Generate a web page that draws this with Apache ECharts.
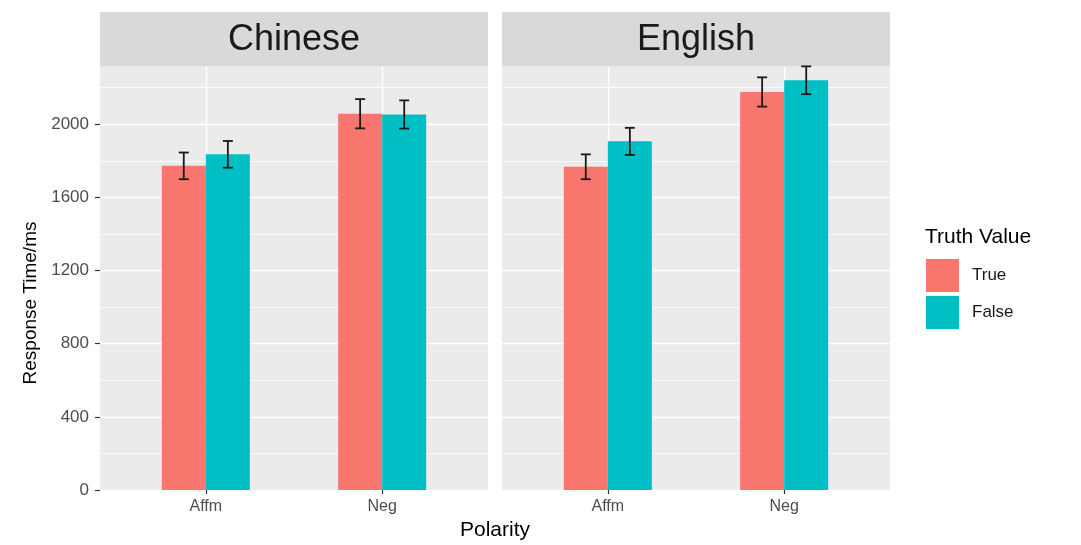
<!DOCTYPE html>
<html><head><meta charset="utf-8">
<script src="https://cdn.jsdelivr.net/npm/echarts@6/dist/echarts.min.js"></script>
<style>html,body{margin:0;padding:0;background:#fff}#c{width:1081px;height:545px}</style>
</head><body><div id="c"></div>
<script>
// ---- data ----
const languages = ['Chinese', 'English'];
const categories = ['Affm', 'Neg'];
const truthLevels = ['True', 'False'];
const chineseTrue = [1772, 2057];
const chineseFalse = [1835, 2053];
const chineseTrueErr = [73, 80];
const chineseFalseErr = [73, 77];
const englishTrue = [1767, 2176];
const englishFalse = [1906, 2240];
const englishTrueErr = [68, 80];
const englishFalseErr = [74, 76];
const yTicks = [0, 400, 800, 1200, 1600, 2000];
const yMinorTicks = [200, 600, 1000, 1400, 1800, 2200];
const yMax = 2318;

// ---- styling / layout ----
const FONT = '"Liberation Sans", Arial, Helvetica, sans-serif';
const colors = {True: '#F8766D', False: '#00BFC4'};
const panels = [{left: 100, width: 388}, {left: 502, width: 388}];
const panelTop = 66, panelHeight = 424, stripTop = 12, stripH = 54;
const dodge = 0.125, barW = 44;

const langData = [
  {t: chineseTrue, f: chineseFalse, te: chineseTrueErr, fe: chineseFalseErr},
  {t: englishTrue, f: englishFalse, te: englishTrueErr, fe: englishFalseErr}
];

const grid = panels.map(p => ({left: p.left, top: panelTop, width: p.width, height: panelHeight,
  show: true, backgroundColor: '#EBEBEB', borderWidth: 0, containLabel: false}));

const xAxis = panels.map((p, gi) => ({
  type: 'value', gridIndex: gi, min: 0.4, max: 2.6,
  axisLine: {show: false},
  axisTick: {show: true, customValues: [1, 2], length: 4, lineStyle: {color: '#333333', width: 1.2}},
  axisLabel: {show: true, customValues: [1, 2], margin: 9, color: '#4D4D4D', fontSize: 16, fontFamily: FONT,
    formatter: v => categories[Math.round(v) - 1] || ''},
  splitLine: {show: true, lineStyle: {color: '#FFFFFF', width: 1.4}}
}));

const yAxis = [];
panels.forEach((p, gi) => {
  yAxis.push({
    type: 'value', gridIndex: gi, min: 0, max: yMax, position: 'left',
    axisLine: {show: false},
    axisTick: {show: gi === 0, customValues: yTicks, length: 5, lineStyle: {color: '#333333', width: 1.2}},
    axisLabel: {show: gi === 0, customValues: yTicks, margin: 11, color: '#4D4D4D', fontSize: 17, fontFamily: FONT,
      formatter: v => String(v)},
    splitLine: {show: true, lineStyle: {color: '#FFFFFF', width: 1.4}}
  });
  yAxis.push({
    type: 'value', gridIndex: gi, min: 0, max: yMax, position: 'right',
    axisLine: {show: false},
    axisTick: {show: false, customValues: yMinorTicks},
    axisLabel: {show: false, customValues: yMinorTicks},
    splitLine: {show: true, lineStyle: {color: '#FFFFFF', width: 0.8}}
  });
});

function errSeries(gi, means, errs, off) {
  return {
    type: 'custom', xAxisIndex: gi, yAxisIndex: gi * 2, z: 5, silent: true,
    data: means.map((m, i) => [i + 1, m, errs[i]]),
    encode: {x: 0, y: 1},
    renderItem(params, api) {
      const x = api.value(0) + off, y = api.value(1), e = api.value(2);
      const top = api.coord([x, y + e]), bot = api.coord([x, y - e]);
      const hw = 5;
      const style = {stroke: '#1A1A1A', lineWidth: 1.8};
      return {type: 'group', children: [
        {type: 'line', shape: {x1: top[0], y1: top[1], x2: bot[0], y2: bot[1]}, style},
        {type: 'line', shape: {x1: top[0] - hw, y1: top[1], x2: top[0] + hw, y2: top[1]}, style},
        {type: 'line', shape: {x1: bot[0] - hw, y1: bot[1], x2: bot[0] + hw, y2: bot[1]}, style}
      ]};
    }
  };
}

const series = [];
langData.forEach((d, gi) => {
  series.push({type: 'bar', name: truthLevels[0], xAxisIndex: gi, yAxisIndex: gi * 2,
    data: d.t.map((v, i) => [i + 1, v]), barWidth: barW, barGap: '0%',
    itemStyle: {color: colors.True}, silent: true});
  series.push({type: 'bar', name: truthLevels[1], xAxisIndex: gi, yAxisIndex: gi * 2,
    data: d.f.map((v, i) => [i + 1, v]), barWidth: barW, barGap: '0%',
    itemStyle: {color: colors.False}, silent: true});
  series.push(errSeries(gi, d.t, d.te, -dodge));
  series.push(errSeries(gi, d.f, d.fe, dodge));
});

const graphic = [];
panels.forEach((p, gi) => {
  graphic.push({type: 'rect', left: p.left, top: stripTop, shape: {width: p.width, height: stripH},
    style: {fill: '#D9D9D9'}, silent: true});
  graphic.push({type: 'text', x: p.left + p.width / 2, y: stripTop + stripH / 2 + 1,
    style: {text: languages[gi], fontSize: 36, fontFamily: FONT, fill: '#1A1A1A', align: 'center', verticalAlign: 'middle'}});
});
graphic.push({type: 'text', x: 495, y: 530,
  style: {text: 'Polarity', fontSize: 21, fontFamily: FONT, fill: '#000000', align: 'center', verticalAlign: 'middle'}});
graphic.push({type: 'text', x: 31, y: 303, rotation: Math.PI / 2,
  style: {text: 'Response Time/ms', fontSize: 19, fontFamily: FONT, fill: '#000000', align: 'center', verticalAlign: 'middle'}});
graphic.push({type: 'text', x: 925, y: 237,
  style: {text: 'Truth Value', fontSize: 21, fontFamily: FONT, fill: '#000000', align: 'left', verticalAlign: 'middle'}});

const chart = echarts.init(document.getElementById('c'), null, {renderer: 'canvas'});
chart.setOption({
  animation: false,
  backgroundColor: '#FFFFFF',
  grid, xAxis, yAxis, series, graphic,
  legend: {data: truthLevels, orient: 'vertical', left: 926, top: 259, padding: 0, itemWidth: 33, itemHeight: 33, itemGap: 4,
    icon: 'rect', selectedMode: false,
    textStyle: {fontSize: 17, fontFamily: FONT, color: '#1A1A1A', padding: [0, 0, 0, 8]}}
});
</script></body></html>
